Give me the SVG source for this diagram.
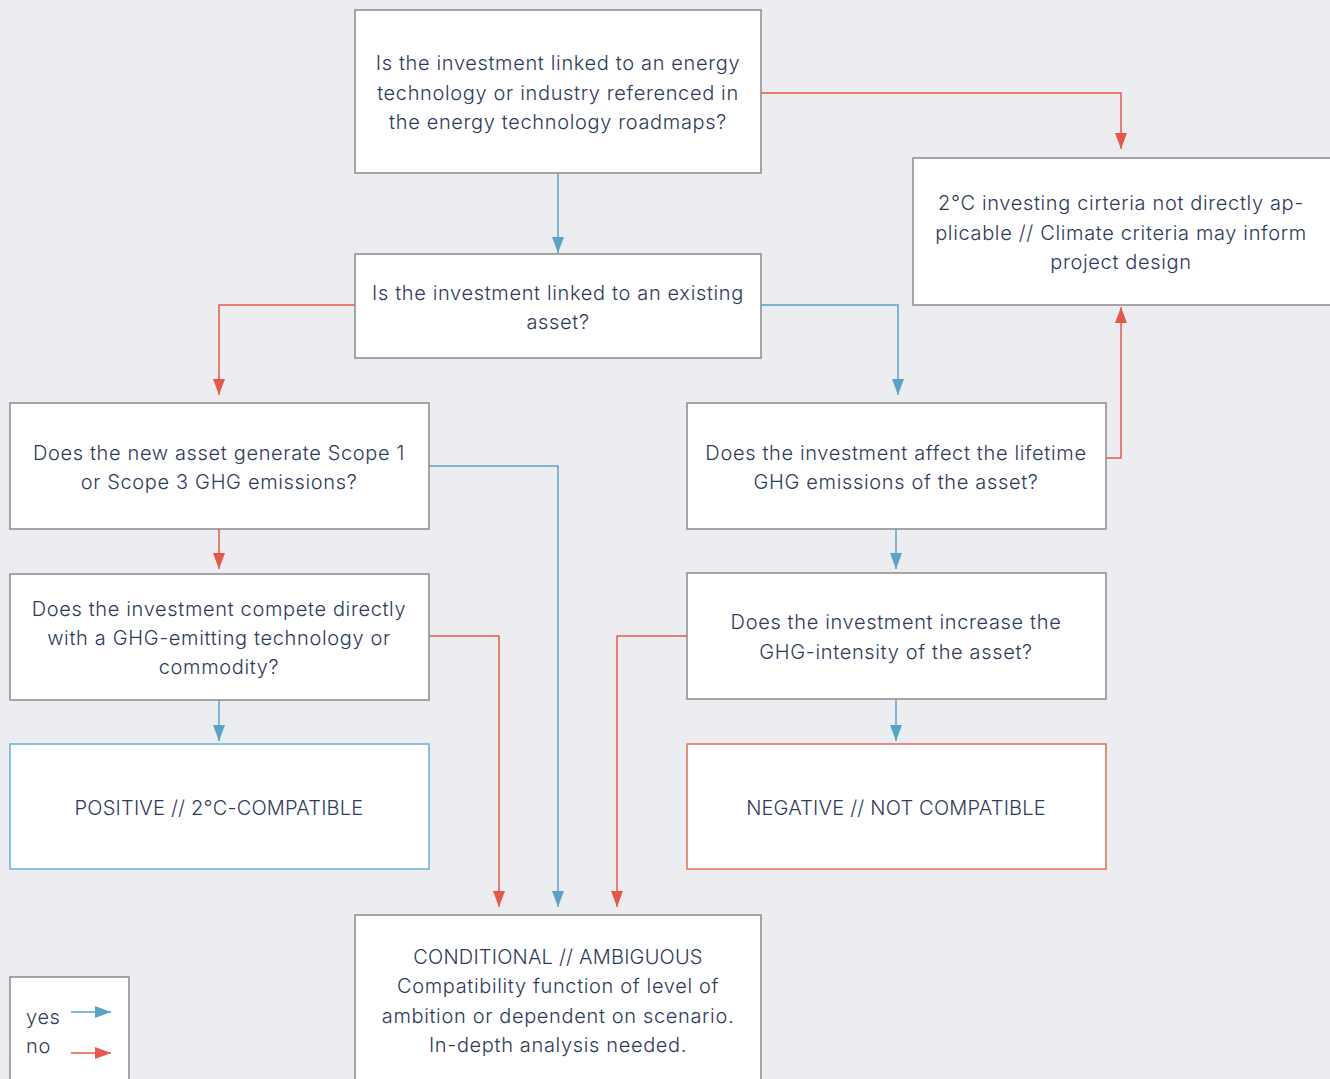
<svg xmlns="http://www.w3.org/2000/svg" width="1330" height="1079" viewBox="0 0 1330 1079">
  <style>
    .box { fill: #ffffff; stroke: #8a8a8c; stroke-width: 1.5; }
    .box-yes { fill: #ffffff; stroke: #6aaed0; stroke-width: 1.5; }
    .box-no { fill: #ffffff; stroke: #e8685c; stroke-width: 1.5; }
    text { font-family: "Inter", "Liberation Sans", sans-serif; font-weight: 300; font-size: 20px; fill: #2e3a5c; text-anchor: middle; letter-spacing: 0.65px; }
    text.caps { letter-spacing: 0.2px; }
    .yes { fill: none; stroke: #5ba3c6; stroke-width: 1.5; marker-end: url(#arrow-yes); }
    .no { fill: none; stroke: #e8574a; stroke-width: 1.5; marker-end: url(#arrow-no); }
  </style>
  <defs>
    <marker id="arrow-yes" viewBox="0 0 16 12" refX="16" refY="6" markerWidth="16" markerHeight="12" markerUnits="userSpaceOnUse" orient="auto">
      <path d="M0,0 L16,6 L0,12 Z" fill="#5ba3c6"/>
    </marker>
    <marker id="arrow-no" viewBox="0 0 16 12" refX="16" refY="6" markerWidth="16" markerHeight="12" markerUnits="userSpaceOnUse" orient="auto">
      <path d="M0,0 L16,6 L0,12 Z" fill="#e8574a"/>
    </marker>
  </defs>
  <rect width="1330" height="1079" fill="#ecedf1"/>

  <!-- connectors -->
  <g id="connectors">
    <path class="no" d="M761,93 H1121 V149"/>
    <path class="yes" d="M558,173 V253"/>
    <path class="no" d="M355,305 H219 V395"/>
    <path class="yes" d="M761,305 H898 V395"/>
    <path class="yes" d="M429,466 H558 V907"/>
    <path class="no" d="M219,529 V569"/>
    <path class="yes" d="M219,700 V741"/>
    <path class="no" d="M429,636 H499 V907"/>
    <path class="no" d="M687,636 H617 V907"/>
    <path class="yes" d="M896,529 V569"/>
    <path class="yes" d="M896,699 V741"/>
    <path class="no" d="M1106,458 H1121 V307"/>
  </g>

  <g id="q-roadmap">
    <rect class="box" x="355" y="10" width="406" height="163"/>
    <text x="558" y="70">Is the investment linked to an energy</text>
    <text x="558" y="100">technology or industry referenced in</text>
    <text x="558" y="129">the energy technology roadmaps?</text>
  </g>

  <g id="q-existing">
    <rect class="box" x="355" y="254" width="406" height="104"/>
    <text x="558" y="300">Is the investment linked to an existing</text>
    <text x="558" y="329">asset?</text>
  </g>

  <g id="not-applicable">
    <rect class="box" x="913" y="158" width="430" height="147"/>
    <text x="1121" y="210">2°C investing cirteria not directly ap-</text>
    <text x="1121" y="240">plicable // Climate criteria may inform</text>
    <text x="1121" y="269">project design</text>
  </g>

  <g id="q-new-asset">
    <rect class="box" x="10" y="403" width="419" height="126"/>
    <text x="219" y="460">Does the new asset generate Scope 1</text>
    <text x="219" y="489">or Scope 3 GHG emissions?</text>
  </g>

  <g id="q-lifetime">
    <rect class="box" x="687" y="403" width="419" height="126"/>
    <text x="896" y="460">Does the investment affect the lifetime</text>
    <text x="896" y="489">GHG emissions of the asset?</text>
  </g>

  <g id="q-compete">
    <rect class="box" x="10" y="574" width="419" height="126"/>
    <text x="219" y="616">Does the investment compete directly</text>
    <text x="219" y="645">with a GHG-emitting technology or</text>
    <text x="219" y="674">commodity?</text>
  </g>

  <g id="q-intensity">
    <rect class="box" x="687" y="573" width="419" height="126"/>
    <text x="896" y="629">Does the investment increase the</text>
    <text x="896" y="659">GHG-intensity of the asset?</text>
  </g>

  <g id="positive">
    <rect class="box-yes" x="10" y="744" width="419" height="125"/>
    <text class="caps" x="219" y="815">POSITIVE // 2°C-COMPATIBLE</text>
  </g>

  <g id="negative">
    <rect class="box-no" x="687" y="744" width="419" height="125"/>
    <text class="caps" x="896" y="815">NEGATIVE // NOT COMPATIBLE</text>
  </g>

  <g id="conditional">
    <rect class="box" x="355" y="915" width="406" height="180"/>
    <text class="caps" x="558" y="964">CONDITIONAL // AMBIGUOUS</text>
    <text x="558" y="993">Compatibility function of level of</text>
    <text x="558" y="1023">ambition or dependent on scenario.</text>
    <text x="558" y="1052">In-depth analysis needed.</text>
  </g>

  <g id="legend">
    <rect class="box" x="10" y="977" width="119" height="120"/>
    <text x="26" y="1024" style="text-anchor: start">yes</text>
    <text x="26" y="1053" style="text-anchor: start">no</text>
    <path class="yes" d="M71,1012 H111"/>
    <path class="no" d="M71,1053 H111"/>
  </g>
</svg>
